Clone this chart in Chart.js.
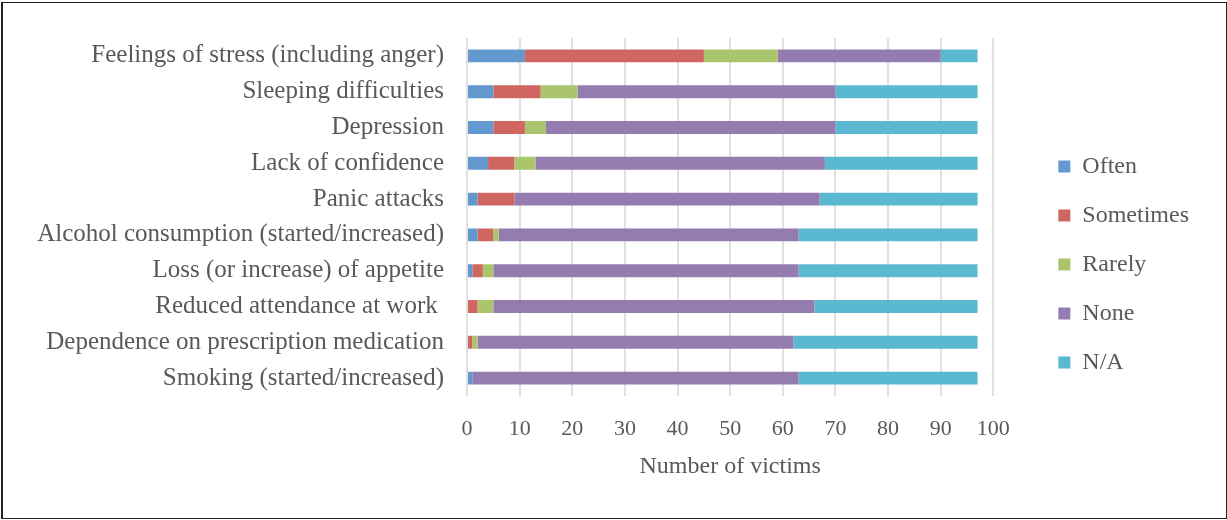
<!DOCTYPE html>
<html>
<head>
<meta charset="utf-8">
<script src="https://cdn.jsdelivr.net/npm/chart.js"></script>
<style>
    html, body { margin: 0; padding: 0; background: #fff; }
    #wrap { position: relative; width: 1227px; height: 520px; }
    #frame {
        position: absolute; left: 1px; top: 2px; width: 1223px; height: 515px;
        border: 1px solid #222; border-left-width: 2px; pointer-events: none;
    }
</style>
</head>
<body>
<div id="wrap">
    <canvas id="impact"></canvas>
    <div id="frame"></div>
</div>
<script>
var categories = [
    "Feelings of stress (including anger)",
    "Sleeping difficulties",
    "Depression",
    "Lack of confidence",
    "Panic attacks",
    "Alcohol consumption (started/increased)",
    "Loss (or increase) of appetite",
    "Reduced attendance at work ",
    "Dependence on prescription medication",
    "Smoking (started/increased)"
];
var often     = [11, 5, 5, 4, 2, 2, 1, 0, 0, 1];
var sometimes = [34, 9, 6, 5, 7, 3, 2, 2, 1, 0];
var rarely    = [14, 7, 4, 4, 0, 1, 2, 3, 1, 0];
var none      = [31, 49, 55, 55, 58, 57, 58, 61, 60, 62];
var notApplicable = [7, 27, 27, 29, 30, 34, 34, 31, 35, 34];
var xTicks = [0, 10, 20, 30, 40, 50, 60, 70, 80, 90, 100];

document.addEventListener('DOMContentLoaded', function () {

    var textColor = '#595959';
    var serif = "'Liberation Serif', 'Times New Roman', serif";

    // keep the legend a bit away from the plot, like the original sheet
    var legendGap = {
        id: 'legendGap',
        afterLayout: function (chart) {
            var lg = chart.legend;
            var dx = chart.chartArea.right + 40 - lg.left;
            lg.left += dx;
            lg.right += dx;
            lg.top += 6;
            lg.bottom += 6;
        }
    };

    var ctx = document.getElementById('impact').getContext('2d');
    var impact = new Chart(ctx, {
        type: 'bar',
        data: {
            labels: categories,
            datasets: [
                { label: 'Often', data: often, backgroundColor: 'rgb(99, 153, 206)' },
                { label: 'Sometimes', data: sometimes, backgroundColor: 'rgb(207, 103, 96)' },
                { label: 'Rarely', data: rarely, backgroundColor: 'rgb(171, 197, 108)' },
                { label: 'None', data: none, backgroundColor: 'rgb(149, 124, 176)' },
                { label: 'N/A', data: notApplicable, backgroundColor: 'rgb(91, 184, 209)' }
            ]
        },
        options: {
            indexAxis: 'y',
            responsive: true,
            maintainAspectRatio: false,
            animation: false,
            categoryPercentage: 0.72,
            barPercentage: 0.5,
            layout: {
                padding: { top: 36, right: 68, bottom: 39, left: 0 }
            },
            scales: {
                x: {
                    stacked: true,
                    min: 0,
                    max: 100,
                    afterBuildTicks: function (scale) {
                        scale.ticks = xTicks.map(function (v) { return { value: v }; });
                    },
                    afterFit: function (scale) { scale.height = 85; },
                    grid: { color: '#e0e0e0', lineWidth: 2, drawTicks: false },
                    border: { display: false },
                    ticks: {
                        padding: 20,
                        color: textColor,
                        font: { family: serif, size: 22 }
                    },
                    title: {
                        display: true,
                        text: 'Number of victims',
                        color: textColor,
                        padding: { top: 8, bottom: 0 },
                        font: { family: serif, size: 24 }
                    }
                },
                y: {
                    stacked: true,
                    grid: { display: false, drawTicks: false },
                    border: { display: false },
                    afterFit: function (scale) { scale.width = 467; },
                    ticks: {
                        padding: 23,
                        color: textColor,
                        font: { family: serif, size: 25 }
                    }
                }
            },
            plugins: {
                tooltip: { enabled: false },
                legend: {
                    position: 'right',
                    labels: {
                        boxWidth: 12,
                        boxHeight: 12,
                        padding: 25,
                        color: textColor,
                        font: { family: serif, size: 24 }
                    }
                }
            }
        },
        plugins: [legendGap]
    });
});
</script>
</body>
</html>
